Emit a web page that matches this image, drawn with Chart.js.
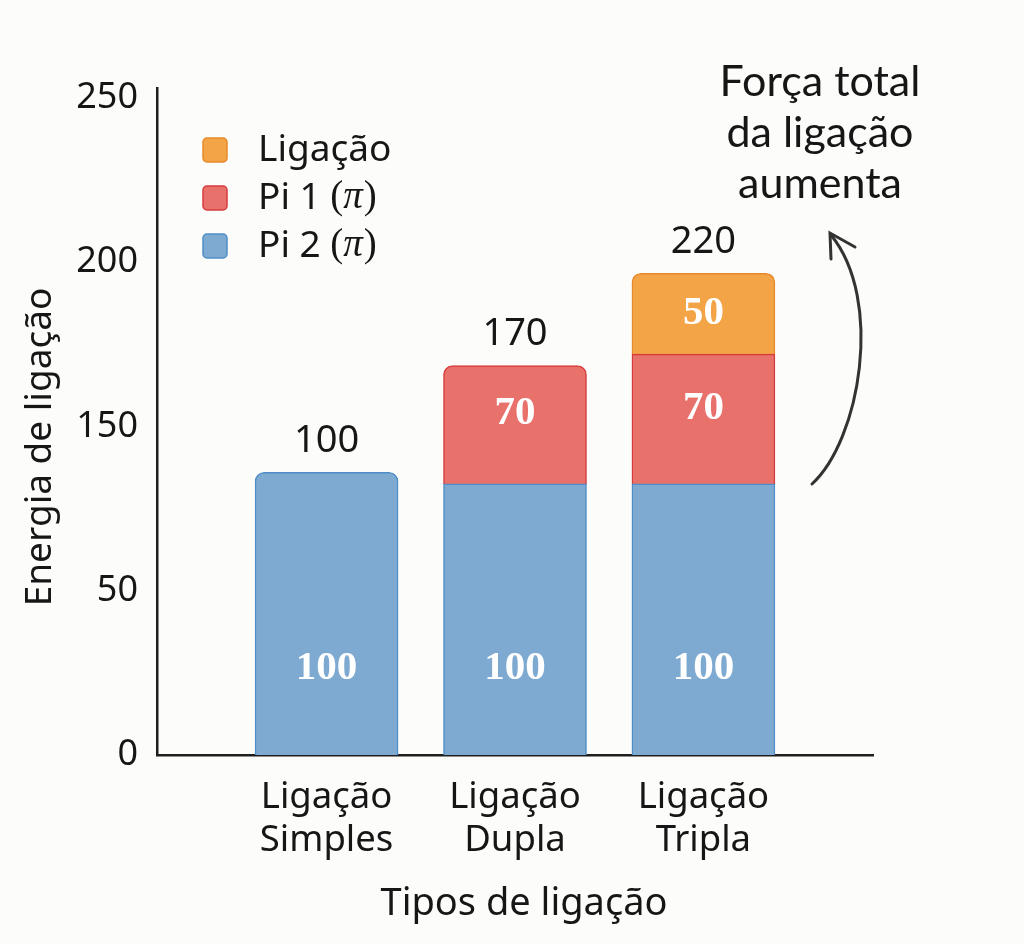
<!DOCTYPE html>
<html>
<head>
<meta charset="utf-8">
<script src="https://cdn.jsdelivr.net/npm/chart.js@4.4.1/dist/chart.umd.min.js"></script>
<style>
html,body{margin:0;padding:0;background:#fcfcfa;}
#wrap{width:1024px;height:944px;position:relative;}
canvas{display:block;}
</style>
</head>
<body>
<div id="wrap"><canvas id="c" width="1024" height="944"></canvas></div>
<script>
// ---- data ----
const categories = [['Ligação','Simples'],['Ligação','Dupla'],['Ligação','Tripla']];
const categoryPositions = [1, 2, 3];
const yTickValues = [0, 50, 100, 150, 200];
const yTickLabels = ['0', '50', '150', '200', '250'];
const seriesNames = ['Pi 2 (π)', 'Pi 1 (π)', 'Ligação'];
// bar segment heights as read against the drawn axis
const pi2Heights = [86, 82.5, 82.5];
const pi1Heights = [null, 36, 39.5];
const ligacaoHeights = [null, null, 24.6];
// printed numbers
const pi2Labels = ['100', '100', '100'];
const pi1Labels = [null, '70', '70'];
const ligacaoLabels = [null, null, '50'];
const totalLabels = ['100', '170', '220'];
const annotationLines = ['Força total', 'da ligação', 'aumenta'];
const xTitle = 'Tipos de ligação';
const yTitle = 'Energia de ligação';

// ---- styles ----
const fills = ['#7eaad1', '#e9716c', '#f2a447'];
const borders = ['#4f8dc7', '#d63b3b', '#e6892a'];
const TXT = '#161616';
const SANS = '"Noto Sans", "Open Sans", sans-serif';
const SERIF = '"Liberation Serif", "DejaVu Serif", serif';

const heightSets = [pi2Heights, pi1Heights, ligacaoHeights];
function isTop(ds, i) {
  for (let k = heightSets.length - 1; k >= 0; k--) {
    if (heightSets[k][i] != null) return k === ds;
  }
  return false;
}

const datasets = heightSets.map((h, k) => ({
  label: seriesNames[k],
  data: categoryPositions.map((x, i) => ({x: x, y: h[i]})),
  backgroundColor: fills[k],
  borderColor: borders[k],
  borderWidth: 1.5,
  borderSkipped: 'bottom',
  borderRadius: (c) => isTop(c.datasetIndex, c.dataIndex) ? {topLeft: 9, topRight: 9, bottomLeft: 0, bottomRight: 0} : 0,
  barThickness: 143,
  stack: 's'
}));

const bgPlugin = {
  id: 'bg',
  beforeDraw(chart) {
    const ctx = chart.ctx;
    ctx.save();
    ctx.fillStyle = '#fcfcfa';
    ctx.fillRect(0, 0, chart.width, chart.height);
    ctx.restore();
  }
};

const textPlugin = {
  id: 'texts',
  afterDatasetsDraw(chart) {
    const ctx = chart.ctx;
    const metas = [0, 1, 2].map(i => chart.getDatasetMeta(i));
    ctx.save();
    ctx.textAlign = 'center';
    ctx.textBaseline = 'middle';
    ctx.fillStyle = '#ffffff';
    ctx.font = 'bold 41px ' + SERIF;
    metas[0].data.forEach((el, i) => {
      if (pi2Labels[i] && pi2Heights[i] != null) ctx.fillText(pi2Labels[i], el.x, el.base - 87);
    });
    metas[1].data.forEach((el, i) => {
      if (pi1Labels[i] && pi1Heights[i] != null) ctx.fillText(pi1Labels[i], el.x, (el.y + el.base) / 2 - 11);
    });
    metas[2].data.forEach((el, i) => {
      if (ligacaoLabels[i] && ligacaoHeights[i] != null) ctx.fillText(ligacaoLabels[i], el.x, (el.y + el.base) / 2);
    });
    // totals
    ctx.fillStyle = TXT;
    ctx.font = '38px ' + SANS;
    categoryPositions.forEach((p, i) => {
      let top = Infinity, x = 0;
      metas.forEach((m, k) => {
        if (heightSets[k][i] != null) { top = Math.min(top, m.data[i].y); x = m.data[i].x; }
      });
      ctx.fillText(totalLabels[i], x, top - 31);
    });
    ctx.restore();
  },
  afterDraw(chart) {
    const ctx = chart.ctx;
    ctx.save();
    ctx.fillStyle = TXT;
    ctx.textBaseline = 'middle';
    // axis titles
    ctx.textAlign = 'center';
    ctx.font = '38px ' + SANS;
    ctx.fillText(xTitle, 524, 904);
    ctx.save();
    ctx.translate(40, 447);
    ctx.rotate(-Math.PI / 2);
    ctx.font = '37px ' + SANS;
    ctx.fillText(yTitle, 0, 0);
    ctx.restore();

    // legend (top to bottom: Ligação, Pi 1, Pi 2)
    const order = [2, 1, 0];
    order.forEach((k, r) => {
      const cy = 150 + r * 48;
      const sx = 203, s = 24;
      ctx.beginPath();
      ctx.roundRect(sx, cy - s / 2, s, s, 4);
      ctx.fillStyle = fills[k];
      ctx.fill();
      ctx.lineWidth = 1.5;
      ctx.strokeStyle = borders[k];
      ctx.stroke();
      ctx.fillStyle = TXT;
      ctx.textAlign = 'left';
      const name = seriesNames[k];
      const idx = name.indexOf('(');
      let x = 258;
      if (idx < 0) {
        ctx.font = '37px ' + SANS;
        ctx.fillText(name, x, cy);
      } else {
        const head = name.slice(0, idx);
        ctx.font = '37px ' + SANS;
        ctx.fillText(head, x, cy);
        x += ctx.measureText(head).width;
        ctx.font = '39px ' + SERIF;
        ctx.fillText('(', x, cy);
        x += ctx.measureText('(').width;
        ctx.font = 'italic 39px ' + SERIF;
        ctx.fillText('π', x, cy);
        x += ctx.measureText('π').width + 1;
        ctx.font = '39px ' + SERIF;
        ctx.fillText(')', x, cy);
      }
    });

    // annotation text
    ctx.textAlign = 'center';
    ctx.font = '43px Lato, ' + SANS;
    annotationLines.forEach((t, i) => ctx.fillText(t, 820, 82 + i * 51));

    // curved arrow
    ctx.strokeStyle = '#333333';
    ctx.lineWidth = 3;
    ctx.lineCap = 'round';
    ctx.beginPath();
    ctx.moveTo(812, 484);
    ctx.bezierCurveTo(860, 440, 884, 300, 831, 235);
    ctx.stroke();
    ctx.beginPath();
    ctx.moveTo(831, 259);
    ctx.lineTo(830, 233);
    ctx.lineTo(855, 247);
    ctx.stroke();
    ctx.restore();
  }
};

new Chart(document.getElementById('c'), {
  type: 'bar',
  data: { datasets: datasets },
  options: {
    responsive: false,
    animation: false,
    devicePixelRatio: 1,
    layout: { padding: { top: 88, right: 151, left: 0, bottom: 0 } },
    plugins: { legend: { display: false }, tooltip: { enabled: false } },
    scales: {
      x: {
        type: 'linear',
        stacked: true,
        offset: false,
        bounds: 'data',
        min: 0.1,
        max: 3.9,
        grid: { display: false, drawTicks: false, offset: false },
        border: { display: true, color: '#1e1e1e', width: 2.5 },
        afterBuildTicks: (s) => { s.ticks = categoryPositions.map(v => ({value: v})); },
        afterFit: (s) => { s.height = 189; },
        ticks: {
          autoSkip: false,
          maxRotation: 0,
          padding: 21,
          color: TXT,
          font: { family: SANS, size: 36.5, lineHeight: 1.18 },
          callback: (v) => { const i = categoryPositions.indexOf(v); return i >= 0 ? categories[i] : ''; }
        }
      },
      y: {
        type: 'linear',
        stacked: true,
        min: 0,
        max: 203,
        grid: { display: false, drawTicks: false },
        border: { display: true, color: '#1e1e1e', width: 2.5 },
        afterBuildTicks: (s) => { s.ticks = yTickValues.map(v => ({value: v})); },
        afterFit: (s) => { s.width = 157; },
        ticks: {
          padding: 19,
          color: TXT,
          font: { family: SANS, size: 36 },
          callback: (v) => { const i = yTickValues.indexOf(v); return i >= 0 ? yTickLabels[i] : ''; }
        }
      }
    }
  },
  plugins: [bgPlugin, textPlugin]
});
</script>
</body>
</html>
